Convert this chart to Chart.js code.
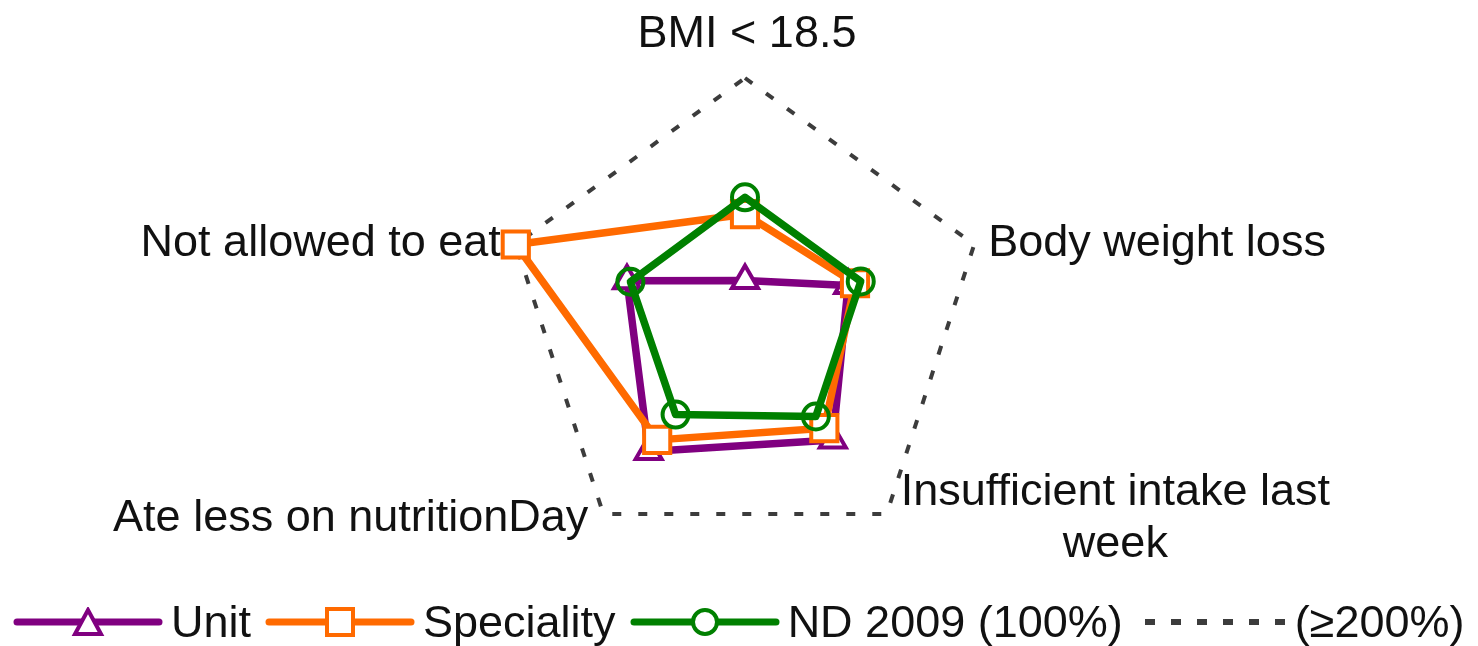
<!DOCTYPE html>
<html>
<head>
<meta charset="utf-8">
<script src="https://cdn.jsdelivr.net/npm/chart.js@4/dist/chart.umd.min.js"></script>
<style>
  html, body { margin: 0; padding: 0; background: #fff; overflow: hidden; }
  #wrap { position: relative; width: 1478px; height: 646px; }
  #legend { position: absolute; left: 0; top: 598px; height: 48px; width: 1478px;
    display: flex; align-items: center; padding-left: 13px; box-sizing: border-box;
    font-family: "Liberation Sans", Arial, sans-serif; font-size: 45px; line-height: 48px; color: #111; }
  .item { display: flex; align-items: center; margin-right: 14px; white-space: nowrap; }
  .item svg { margin-right: 8px; display: block; }
</style>
</head>
<body>
<div id="wrap">
  <canvas id="c" width="1478" height="646"></canvas>
  <div id="legend"></div>
</div>
<script>
// ---- data ----
const categories = ['BMI < 18.5', 'Body weight loss', ['Insufficient intake last', 'week'], 'Ate less on nutritionDay', 'Not allowed to eat'];
const unitValues = [32, 90, 124, 136, 103];
const specialityValues = [87, 96, 112, 124, 200];
const nd2009Values = [101, 101, 100, 98, 100];
const limitValues = [200, 200, 200, 200, 200];
const seriesNames = ['Unit', 'Speciality', 'ND 2009 (100%)', '(\u2265200%)'];
const scaleMax = 200;

const PURPLE = '#800080', ORANGE = '#FF6A00', GREEN = '#008000', GREY = '#3c3c3c';
const FONT = '"Liberation Sans", Arial, sans-serif';

const labelPlugin = {
  id: 'axisLabels',
  beforeDatasetsDraw(chart) {
    const scale = chart.scales.r;
    const ctx = chart.ctx;
    const lh = 52;
    ctx.save();
    ctx.font = '45px ' + FONT;
    ctx.fillStyle = '#111';
    ctx.textBaseline = 'alphabetic';
    ctx.textAlign = 'center';
    chart.data.labels.forEach((lab, i) => {
      const lines = Array.isArray(lab) ? lab : [lab];
      const p = scale.getPointPosition(i, scale.getDistanceFromCenterForValue(scaleMax));
      const dx = p.x - scale.xCenter, dy = p.y - scale.yCenter;
      const maxW = Math.max(...lines.map(l => ctx.measureText(l).width));
      if (Math.abs(dx) < 2) {
        ctx.fillText(lines[0], p.x + 2, p.y - 31);
        return;
      }
      const xc = dx > 0 ? p.x + 14 + maxW / 2 : p.x - 15 - maxW / 2;
      const off = dy < 0 ? 11 : 17;
      const y0 = p.y + off - (lines.length - 1) * lh / 2;
      lines.forEach((l, k) => ctx.fillText(l, xc, y0 + k * lh));
    });
    ctx.restore();
  }
};

new Chart(document.getElementById('c'), {
  type: 'radar',
  data: {
    labels: categories,
    datasets: [
      { label: seriesNames[0], data: unitValues, borderColor: PURPLE, borderWidth: 7.5, fill: false,
        pointStyle: 'triangle', pointRadius: 15, pointBorderWidth: 4, pointBorderColor: PURPLE,
        pointBackgroundColor: '#fff', borderJoinStyle: 'round', order: 2 },
      { label: seriesNames[1], data: specialityValues, borderColor: ORANGE, borderWidth: 7.5, fill: false,
        pointStyle: 'rect', pointRadius: 18.5, pointBorderWidth: 4, pointBorderColor: ORANGE,
        pointBackgroundColor: '#fff', borderJoinStyle: 'round', order: 1 },
      { label: seriesNames[2], data: nd2009Values, borderColor: GREEN, borderWidth: 7.5, fill: false,
        pointStyle: 'circle', pointRadius: 13, pointBorderWidth: 4, pointBorderColor: GREEN,
        pointBackgroundColor: 'rgba(255,255,255,0)', borderJoinStyle: 'round', order: 0 },
      { label: seriesNames[3], data: limitValues, borderColor: GREY, borderWidth: 4, fill: false,
        borderDash: [9, 17], pointRadius: 0, order: 3 }
    ]
  },
  options: {
    responsive: false,
    animation: false,
    layout: { padding: { left: 12, right: 0, top: 78, bottom: 86 } },
    plugins: { legend: { display: false }, tooltip: { enabled: false } },
    elements: { line: { tension: 0 } },
    scales: {
      r: {
        min: 0, max: scaleMax,
        grid: { display: false },
        angleLines: { display: false },
        ticks: { display: false },
        pointLabels: { display: false }
      }
    }
  },
  plugins: [labelPlugin]
});

// ---- HTML legend ----
function marker(type, color) {
  if (type === 'triangle') return `<polygon points="75,3 62,27 88,27" fill="#fff" stroke="${color}" stroke-width="4"/>`;
  if (type === 'rect') return `<rect x="62" y="2" width="26" height="26" fill="#fff" stroke="${color}" stroke-width="4"/>`;
  if (type === 'circle') return `<circle cx="75" cy="15" r="12" fill="#fff" stroke="${color}" stroke-width="4"/>`;
  return '';
}
const legendDefs = [
  { name: seriesNames[0], color: PURPLE, type: 'triangle' },
  { name: seriesNames[1], color: ORANGE, type: 'rect' },
  { name: seriesNames[2], color: GREEN, type: 'circle' },
  { name: seriesNames[3], color: GREY, type: 'dash' }
];
document.getElementById('legend').innerHTML = legendDefs.map(d => {
  const line = d.type === 'dash'
    ? `<line x1="8" y1="15" x2="150" y2="15" stroke="${d.color}" stroke-width="6" stroke-dasharray="10 16"/>`
    : `<line x1="4" y1="15" x2="146" y2="15" stroke="${d.color}" stroke-width="7" stroke-linecap="round"/>`;
  return `<div class="item"><svg width="150" height="30" viewBox="0 0 150 30">${line}${marker(d.type, d.color)}</svg><span>${d.name}</span></div>`;
}).join('');
</script>
</body>
</html>
